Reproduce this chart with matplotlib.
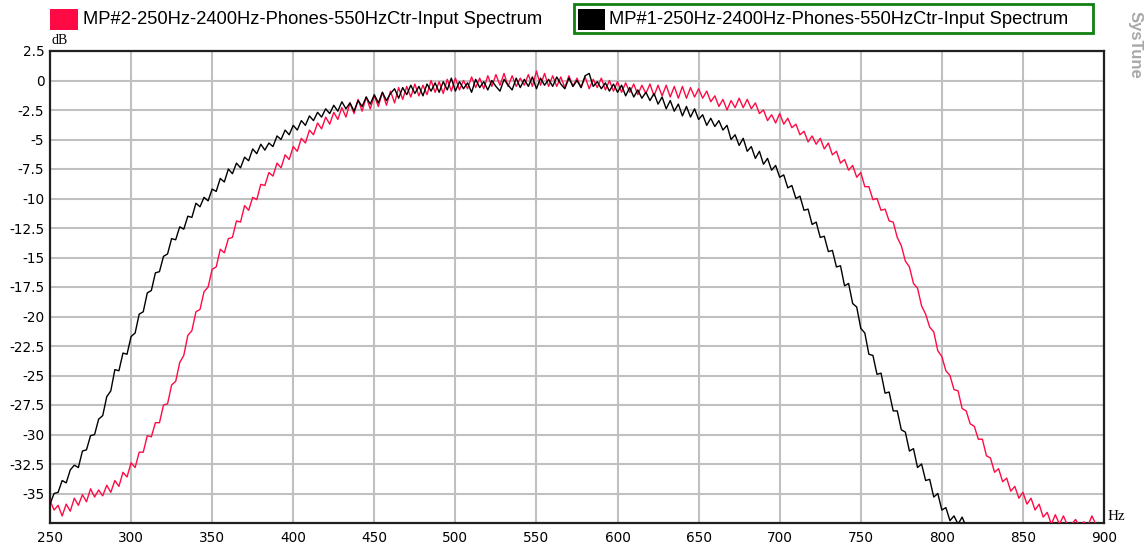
import numpy as np
import matplotlib
matplotlib.use("Agg")
import matplotlib.pyplot as plt
from matplotlib.patches import Rectangle

# ---- data -------------------------------------------------------------
series_names = ["MP#2-250Hz-2400Hz-Phones-550HzCtr-Input Spectrum",
                "MP#1-250Hz-2400Hz-Phones-550HzCtr-Input Spectrum"]
series_colors = ["#ff0a45", "#000000"]

f_start = 250.0
f_step = 2.5

# MP#2 (red) spectrum, dB, 250 Hz .. 895 Hz every 2.5 Hz
mp2_db = [
    -35.6, -36.4, -36.0, -36.9, -35.9, -36.5, -35.4, -36.0, -35.1, -35.7,
    -34.6, -35.3, -34.7, -35.2, -34.3, -34.9, -33.9, -34.4, -33.2, -33.6,
    -32.4, -32.8, -31.5, -31.5, -30.1, -30.2, -29.0, -29.0, -27.5, -27.4,
    -25.8, -25.5, -23.9, -23.3, -21.6, -21.2, -19.6, -19.4, -17.9, -17.5,
    -16.0, -15.8, -14.3, -14.6, -13.4, -13.3, -11.9, -12.0, -10.6, -11.0,
    -9.9, -10.1, -8.8, -8.9, -7.8, -8.1, -7.0, -7.4, -6.3, -6.7,
    -5.6, -6.0, -4.9, -5.3, -4.2, -4.6, -3.6, -4.1, -3.1, -3.7,
    -2.7, -3.3, -2.3, -3.1, -1.9, -2.8, -1.6, -2.6, -1.4, -2.4,
    -1.3, -2.2, -1.0, -2.1, -0.9, -1.9, -0.6, -1.6, -0.5, -1.4,
    -0.3, -1.3, -0.4, -1.2, 0.0, -1.0, -0.1, -1.1, 0.1, -0.9,
    0.2, -0.8, 0.0, -0.7, 0.3, -0.6, 0.2, -0.7, 0.4, -0.5,
    0.5, -0.4, 0.6, -0.5, 0.4, -0.5, 0.2, -0.4, 0.5, -0.5,
    0.8, -0.4, 0.6, -0.5, 0.4, -0.5, 0.3, -0.6, 0.4, -0.5,
    0.2, -0.6, 0.3, -0.7, 0.1, -0.6, 0.2, -0.8, 0.0, -0.9,
    -0.1, -1.0, -0.2, -1.0, -0.3, -1.2, -0.4, -1.1, -0.3, -1.3,
    -0.4, -1.3, -0.4, -1.4, -0.5, -1.5, -0.5, -1.5, -0.6, -1.4,
    -0.7, -1.5, -0.9, -1.8, -1.3, -2.2, -1.6, -2.5, -1.7, -2.3,
    -1.5, -2.3, -1.6, -2.4, -1.9, -2.8, -2.5, -3.4, -2.9, -3.6,
    -2.8, -3.7, -3.2, -4.0, -3.7, -4.6, -4.3, -5.2, -4.7, -5.4,
    -4.9, -5.8, -5.3, -6.3, -6.0, -7.0, -6.7, -7.6, -7.2, -8.2,
    -7.8, -9.0, -9.0, -10.1, -10.0, -11.0, -10.9, -11.9, -12.0, -13.3,
    -14.0, -15.3, -15.8, -17.2, -17.6, -19.1, -19.8, -20.9, -21.3, -22.9,
    -23.4, -24.6, -25.0, -26.2, -26.3, -27.8, -28.0, -29.1, -29.3, -30.4,
    -30.4, -31.8, -32.0, -33.2, -32.9, -34.0, -33.7, -34.8, -34.4, -35.4,
    -34.9, -35.9, -35.4, -36.4, -35.9, -37.0, -36.6, -37.6, -36.8, -37.6,
    -36.9, -37.7, -37.6, -37.2, -37.8, -37.4, -37.8, -36.9, -37.6,
]

# MP#1 (black) spectrum, dB, 250 Hz .. 815 Hz every 2.5 Hz
mp1_db = [
    -35.9, -35.0, -34.9, -33.9, -34.1, -33.0, -32.6, -32.8, -31.4, -31.3,
    -30.1, -30.0, -28.7, -28.4, -26.8, -26.3, -24.5, -24.6, -23.1, -23.2,
    -21.7, -21.4, -19.8, -19.6, -18.0, -17.8, -16.3, -16.2, -14.9, -14.7,
    -13.4, -13.5, -12.4, -12.6, -11.5, -11.6, -10.4, -10.7, -9.9, -10.2,
    -9.2, -9.4, -8.3, -8.6, -7.5, -7.9, -7.0, -7.4, -6.5, -6.8,
    -5.8, -6.2, -5.4, -5.9, -5.3, -5.6, -4.7, -5.0, -4.2, -4.6,
    -3.8, -4.2, -3.4, -3.8, -3.0, -3.4, -2.7, -3.1, -2.4, -2.8,
    -2.1, -2.6, -1.8, -2.4, -1.9, -2.6, -1.7, -2.2, -1.4, -2.0,
    -1.2, -1.9, -1.0, -1.7, -1.1, -0.7, -1.5, -0.6, -1.2, -0.4,
    -1.1, -0.5, -1.3, -0.3, -0.9, -0.2, -1.0, -0.1, -0.8, 0.2,
    -0.9, -0.1, -0.7, -0.2, -1.0, 0.1, -0.6, -0.1, -0.8, 0.0,
    -0.5, -0.9, 0.1, -0.4, -0.8, 0.2, -0.6, 0.1, -0.5, 0.3,
    -0.7, 0.2, -0.4, 0.1, -0.5, 0.3, -0.3, -0.7, 0.2, -0.5,
    0.0, -0.6, 0.4, 0.6, -0.5, -0.1, -0.7, -0.2, -0.9, -0.3,
    -1.0, -0.4, -1.3, -0.6, -1.4, -0.8, -1.5, -1.0, -1.7, -1.1,
    -2.0, -1.4, -2.4, -1.7, -2.6, -2.0, -3.0, -2.2, -3.1, -2.4,
    -3.3, -2.9, -3.8, -3.2, -3.9, -3.4, -4.2, -3.8, -5.0, -4.6,
    -5.5, -4.9, -6.0, -5.6, -6.6, -6.0, -7.1, -6.6, -7.6, -7.2,
    -8.2, -8.0, -9.1, -8.9, -10.0, -9.8, -11.0, -10.9, -12.2, -12.0,
    -13.3, -13.2, -14.5, -14.4, -15.8, -15.7, -17.4, -17.2, -18.9, -19.2,
    -21.0, -21.4, -23.2, -23.3, -24.9, -24.8, -26.5, -26.4, -28.0, -28.0,
    -29.6, -29.8, -31.4, -31.2, -32.8, -32.5, -33.9, -33.8, -35.3, -35.0,
    -36.4, -36.2, -37.3, -36.9, -37.6, -37.0, -37.8,
]

x_ticks = [250, 300, 350, 400, 450, 500, 550, 600, 650, 700, 750, 800, 850, 900]
y_ticks = [2.5, 0, -2.5, -5, -7.5, -10, -12.5, -15, -17.5, -20, -22.5, -25,
           -27.5, -30, -32.5, -35]
y_tick_labels = ["2.5", "0", "-2.5", "-5", "-7.5", "-10", "-12.5", "-15",
                 "-17.5", "-20", "-22.5", "-25", "-27.5", "-30", "-32.5", "-35"]

# ---- figure -----------------------------------------------------------
W, H = 1147, 549
fig = plt.figure(figsize=(W / 100, H / 100), dpi=100)
fig.patch.set_facecolor("white")

L, R, T, B = 50, 1104, 51, 523
ax = fig.add_axes([L / W, 1 - B / H, (R - L) / W, (B - T) / H])

f2 = f_start + f_step * np.arange(len(mp2_db))
f1 = f_start + f_step * np.arange(len(mp1_db))
ax.plot(f2, mp2_db, color=series_colors[0], lw=1.0, zorder=3)
ax.plot(f1, mp1_db, color=series_colors[1], lw=1.0, zorder=4)

ax.set_xlim(250, 900)
ax.set_ylim(-37.5, 2.5)
ax.set_xticks(x_ticks)
ax.set_xticklabels([str(v) for v in x_ticks])
ax.set_yticks(y_ticks)
ax.set_yticklabels(y_tick_labels)
ax.tick_params(length=0, labelsize=9.8, colors="#000000", pad=4)
ax.tick_params(axis="x", pad=6)
ax.grid(True, color="#c0c0c0", lw=1.5, zorder=0)
ax.set_axisbelow(True)
for s in ax.spines.values():
    s.set_color("#202020")
    s.set_linewidth(1.6)

# axis unit labels
fig.text(52 / W, 1 - 41 / H, "dB", family="Liberation Serif", fontsize=10,
         ha="left", va="center")
fig.text(1108 / W, 1 - 516 / H, "Hz", family="Liberation Serif", fontsize=11,
         ha="left", va="center")

# legend (drawn at top)
fig.patches.append(Rectangle((50 / W, 1 - 30 / H), 28 / W, 21 / H,
                             transform=fig.transFigure, facecolor=series_colors[0],
                             edgecolor="none"))
fig.text(83 / W, 1 - 19 / H, series_names[0], family="Liberation Sans",
         fontsize=13.2, ha="left", va="center")
fig.patches.append(Rectangle((574 / W, 1 - 33 / H), 519 / W, 29 / H,
                             transform=fig.transFigure, facecolor="white",
                             edgecolor="#108010", lw=2))
fig.patches.append(Rectangle((578 / W, 1 - 30 / H), 27 / W, 21 / H,
                             transform=fig.transFigure, facecolor=series_colors[1],
                             edgecolor="none"))
fig.text(609 / W, 1 - 19 / H, series_names[1], family="Liberation Sans",
         fontsize=13.2, ha="left", va="center")

fig.text(1135 / W, 1 - 45 / H, "SysTune", family="Liberation Sans",
         fontsize=12, fontweight="bold", color="#a8a8a8", rotation=-90,
         ha="center", va="center")

fig.savefig("out.png", dpi=100, facecolor="white")
